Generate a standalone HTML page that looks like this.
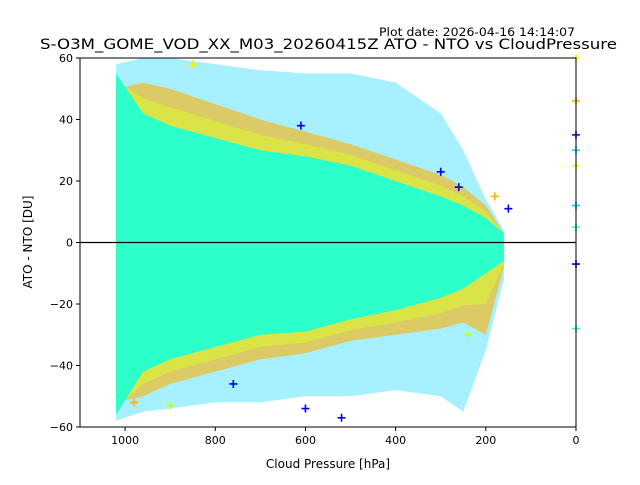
<!DOCTYPE html>
<html><head><meta charset="utf-8"><style>
body{margin:0;background:#fff}
svg text{font-family:"DejaVu Sans","Liberation Sans",sans-serif}
</style></head><body>
<svg id="c" width="640" height="480" xmlns="http://www.w3.org/2000/svg">
<rect width="640" height="480" fill="#fff"/>
<text x="379" y="36" font-size="11.5" textLength="196" lengthAdjust="spacingAndGlyphs">Plot date: 2026-04-16 14:14:07</text>
<text x="40" y="49" font-size="14.5" textLength="577" lengthAdjust="spacingAndGlyphs">S-O3M_GOME_VOD_XX_M03_20260415Z ATO - NTO vs CloudPressure</text>
<g id="plot"></g>
<g id="axes"></g>
<text x="328" y="468" font-size="12" text-anchor="middle">Cloud Pressure [hPa]</text>
<text x="32" y="242" font-size="12" text-anchor="middle" transform="rotate(-90 32 242)">ATO - NTO [DU]</text>
</svg>
<script>
const pressures = [1020, 960, 900, 800, 700, 600, 500, 400, 300, 250, 200, 160];
const outerTop  = [58, 60, 60, 58, 56, 55, 55, 52, 42, 30, 14, 4];
const outerBot  = [-58, -55, -54, -52, -52, -50, -50, -48, -50, -55, -35, -12];
const warmTop   = [50, 52, 50, 45, 40, 36, 32, 27, 22, 18, 12, 3];
const warmBot   = [-52, -50, -46, -42, -38, -36, -32, -30, -28, -26, -30, -8];
const coreTop   = [55, 42, 38, 34, 30, 28, 25, 20, 15, 12, 8, 3];
const coreBot   = [-56, -42, -38, -34, -30, -29, -25, -22, -18, -15, -10, -6];
const blueP = [150, 600, 520, 760, 610, 300, 260, 0, 0];
const blueV = [11, -54, -57, -46, 38, 23, 18, 35, -7];
const edgeP = [0, 0, 0, 0, 0, 0, 0, 240, 180, 900, 980, 850];
const edgeV = [60, 46, 30, 25, 12, 5, -28, -30, 15, -53, -52, 58];
const edgeC = ["#ffee00","#ffb000","#00d4ff","#ffee00","#00d4ff","#2cffca","#2cffca","#c0ff30","#ffb000","#c0ff30","#ffb000","#ffee00"];
const xTicks = [1000, 800, 600, 400, 200, 0];
const yTicks = [60, 40, 20, 0, -20, -40, -60];

const L=80,R=576,T=58,B=427;
const xs = p => L + (1100 - p) / 1100 * (R - L);
const ys = v => T + (60 - v) / 120 * (B - T);
const NS="http://www.w3.org/2000/svg";
const plot=document.getElementById('plot'), axes=document.getElementById('axes');
function mk(tag, attrs, parent){const e=document.createElementNS(NS,tag);for(const k in attrs)e.setAttribute(k,attrs[k]);parent.appendChild(e);return e;}
function band(top, bot, fill, op, name){
  let pts=[];
  for(let i=0;i<pressures.length;i++)pts.push(xs(pressures[i])+','+ys(top[i]));
  for(let i=pressures.length-1;i>=0;i--)pts.push(xs(pressures[i])+','+ys(bot[i]));
  const e=mk('polygon',{points:pts.join(' '),fill:fill,'fill-opacity':op},plot);
  
  
}
band(outerTop, outerBot, "#00d4ff", 0.35, 'outer-scatter-band');
band(warmTop, warmBot, "#ffb000", 0.6, 'orange-scatter-band');
band(warmTop.map((v,i)=>(v+coreTop[i])/2), warmBot.map((v,i)=>(v+coreBot[i])/2), "#d8f530", 0.6, 'yellow-scatter-band');
band(coreTop, coreBot, "#2cffca", 1, 'core-scatter-band');
function plus(p,v,c,name){
  const x=xs(p),y=ys(v);
  const e=mk('path',{d:`M${x-4},${y}H${x+4}M${x},${y-4}V${y+4}`,stroke:c,'stroke-width':1.6},plot);
  
  
}
for(let i=0;i<blueP.length;i++)plus(blueP[i],blueV[i],"#0000ee",'blue-point');
for(let i=0;i<edgeP.length;i++)plus(edgeP[i],edgeV[i],edgeC[i],'edge-point');
const zl=mk('line',{x1:L,x2:R,y1:ys(0),y2:ys(0),stroke:'#000','stroke-width':1.2},plot);


const fr=mk('rect',{x:L,y:T,width:R-L,height:B-T,fill:'none',stroke:'#000','stroke-width':1},axes);


xTicks.forEach(t=>{
  mk('line',{x1:xs(t),x2:xs(t),y1:B,y2:B+4,stroke:'#000'},axes);
  const e=mk('text',{x:xs(t),y:B+17,'font-size':11,'text-anchor':'middle'},axes);
  e.textContent=t;
  
  
});
yTicks.forEach(t=>{
  mk('line',{x1:L-4,x2:L,y1:ys(t),y2:ys(t),stroke:'#000'},axes);
  const e=mk('text',{x:L-7,y:ys(t)+4,'font-size':11,'text-anchor':'end'},axes);
  e.textContent=t<0?'\u2212'+(-t):t;
  
  
});
</script>
</body></html>
